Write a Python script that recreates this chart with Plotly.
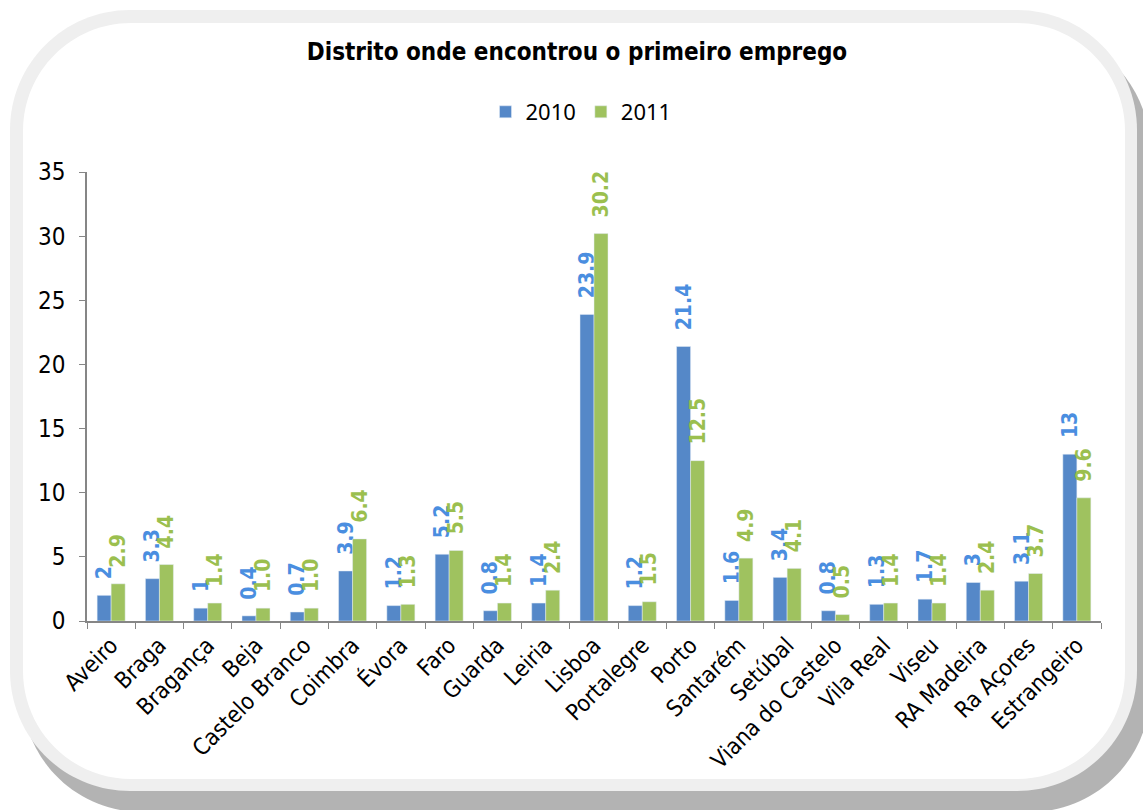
import plotly.graph_objects as go

categories = ["Aveiro", "Braga", "Bragança", "Beja", "Castelo Branco", "Coimbra", "Évora",
              "Faro", "Guarda", "Leiria", "Lisboa", "Portalegre", "Porto", "Santarém",
              "Setúbal", "Viana do Castelo", "Vila Real", "Viseu", "RA Madeira", "Ra Açores",
              "Estrangeiro"]
values_2010 = [2, 3.3, 1, 0.4, 0.7, 3.9, 1.2, 5.2, 0.8, 1.4, 23.9, 1.2, 21.4, 1.6, 3.4, 0.8, 1.3, 1.7, 3, 3.1, 13]
values_2011 = [2.9, 4.4, 1.4, 1.0, 1.0, 6.4, 1.3, 5.5, 1.4, 2.4, 30.2, 1.5, 12.5, 4.9, 4.1, 0.5, 1.4, 1.4, 2.4, 3.7, 9.6]
labels_2010 = ["2", "3.3", "1", "0.4", "0.7", "3.9", "1.2", "5.2", "0.8", "1.4", "23.9", "1.2", "21.4", "1.6",
               "3.4", "0.8", "1.3", "1.7", "3", "3.1", "13"]
labels_2011 = ["2.9", "4.4", "1.4", "1.0", "1.0", "6.4", "1.3", "5.5", "1.4", "2.4", "30.2", "1.5", "12.5", "4.9",
               "4.1", "0.5", "1.4", "1.4", "2.4", "3.7", "9.6"]
y_ticks = [0, 5, 10, 15, 20, 25, 30, 35]

W, H = 1143, 810
ML, MR, MT, MB = 87, 42, 172, 189
PW, PH = W - ML - MR, H - MT - MB

NARROW = "Liberation Sans Narrow, Arial Narrow, DejaVu Sans Condensed, Liberation Sans, Arial, sans-serif"
BLUE, GREEN = "#5588c8", "#9fc25f"
BLUE_T, GREEN_T = "#4a8ee0", "#9bbf4f"


def fx(px):
    return (px - ML) / PW


def fy(py):
    return (H - MB - py) / PH


def rrect(x0, y0, x1, y1, r):
    k = 0.5523 * r
    pts = [
        ("M", [(x0 + r, y0)]),
        ("L", [(x1 - r, y0)]),
        ("C", [(x1 - r + k, y0), (x1, y0 + r - k), (x1, y0 + r)]),
        ("L", [(x1, y1 - r)]),
        ("C", [(x1, y1 - r + k), (x1 - r + k, y1), (x1 - r, y1)]),
        ("L", [(x0 + r, y1)]),
        ("C", [(x0 + r - k, y1), (x0, y1 - r + k), (x0, y1 - r)]),
        ("L", [(x0, y0 + r)]),
        ("C", [(x0, y0 + r - k), (x0 + r - k, y0), (x0 + r, y0)]),
    ]
    s = ""
    for cmd, pl in pts:
        s += cmd + " ".join(f"{fx(a):.5f},{fy(b):.5f}" for a, b in pl) + " "
    return s + "Z"


fig = go.Figure()
pad = "\u00a0\u00a0"
fig.add_trace(go.Bar(
    name="2010", x=categories, y=values_2010, marker_color=BLUE,
    text=[pad + t for t in labels_2010], textposition="outside", textangle=-90,
    textfont=dict(family=NARROW, size=21, color=BLUE_T, weight="bold"),
    constraintext="none", cliponaxis=False,
))
fig.add_trace(go.Bar(
    name="2011", x=categories, y=values_2011, marker_color=GREEN,
    text=[pad + t for t in labels_2011], textposition="outside", textangle=-90,
    textfont=dict(family=NARROW, size=21, color=GREEN_T, weight="bold"),
    constraintext="none", cliponaxis=False,
))

shapes = [
    dict(type="path", xref="paper", yref="paper", path=rrect(22, 30, 1150, 812, 120),
         fillcolor="#b3b3b3", line=dict(width=0), layer="below"),
    dict(type="path", xref="paper", yref="paper", path=rrect(10, 10, 1137, 791, 120),
         fillcolor="#efefef", line=dict(width=0), layer="below"),
    dict(type="path", xref="paper", yref="paper", path=rrect(23, 23, 1125, 779, 108),
         fillcolor="#ffffff", line=dict(width=0), layer="below"),
]

fig.update_layout(
    width=W, height=H, autosize=False,
    margin=dict(l=ML, r=MR, t=MT, b=MB),
    paper_bgcolor="#ffffff", plot_bgcolor="rgba(0,0,0,0)",
    shapes=shapes,
    barmode="group", bargap=0.42, bargroupgap=0,
    title=dict(text="Distrito onde encontrou o primeiro emprego", x=577 / W, xanchor="center",
               y=1 - 52 / H, yanchor="middle", yref="container",
               font=dict(family=NARROW, size=24, color="#000000", weight="bold")),
    legend=dict(orientation="h", x=fx(581), xanchor="center", y=fy(112), yanchor="middle",
                font=dict(family="Noto Sans, Open Sans, sans-serif", size=22, color="#000000"),
                bgcolor="rgba(0,0,0,0)", itemwidth=30, traceorder="normal"),
    showlegend=True,
    xaxis=dict(type="category", tickangle=-45, tickson="boundaries", ticks="outside", ticklen=6,
               tickcolor="#868686", showline=True, linecolor="#868686", linewidth=1.5,
               showgrid=False, tickfont=dict(family=NARROW, size=23, color="#000000"),
               range=[-0.5, len(categories) - 0.5]),
    yaxis=dict(range=[0, 35], tickvals=y_ticks, ticks="outside", ticklen=6, tickcolor="#868686",
               showline=True, linecolor="#868686", linewidth=1.5, showgrid=False, zeroline=False,
               tickfont=dict(family=NARROW, size=24, color="#000000"), ticklabelstandoff=9),
)

fig.write_html("out.html")
